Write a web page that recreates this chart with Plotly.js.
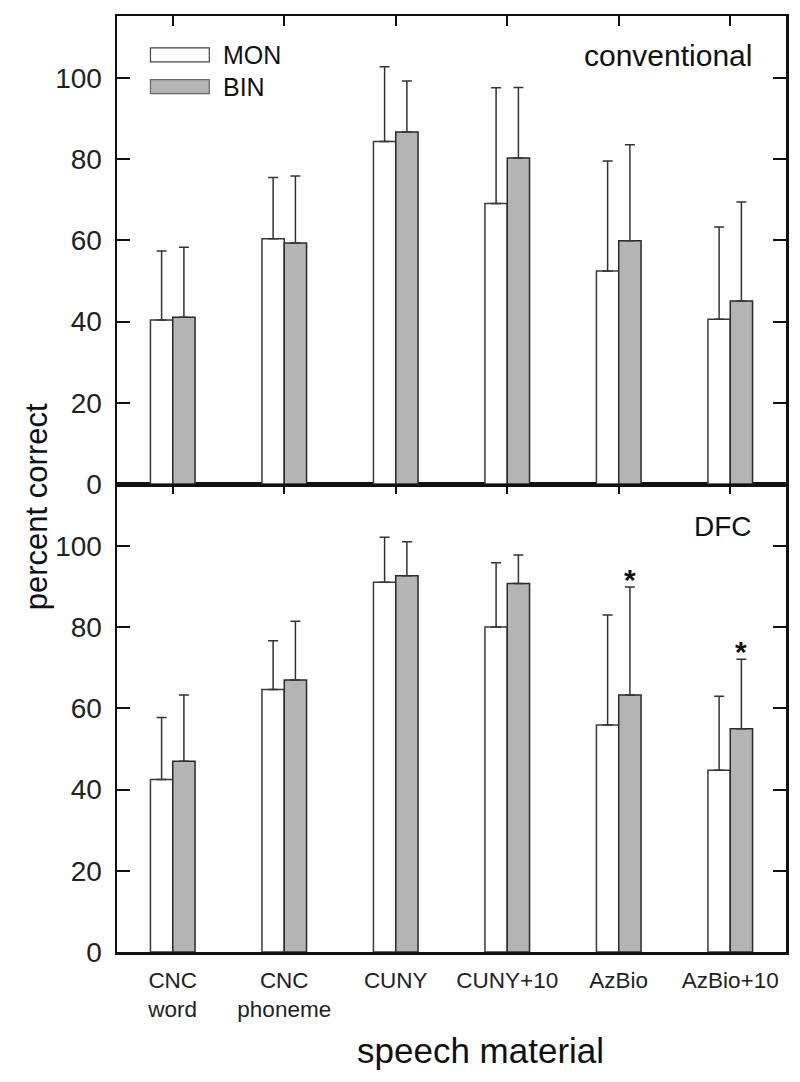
<!DOCTYPE html>
<html>
<head>
<meta charset="utf-8">
<script src="https://cdn.plot.ly/plotly-3.0.1.min.js"></script>
<style>html,body{margin:0;padding:0;background:#fff;}#chart{width:800px;height:1082px;}</style>
</head>
<body>
<div id="chart"></div>
<script>
// ---- data ----
var categories = ["CNC<br>word", "CNC<br>phoneme", "CUNY", "CUNY+10", "AzBio", "AzBio+10"];
var panels = ["conventional", "DFC"];
var seriesNames = ["MON", "BIN"];

// conventional
var convMON = [40.4, 60.4, 84.4, 69.1, 52.5, 40.6];
var convMONsd = [17.0, 15.1, 18.4, 28.5, 27.1, 22.7];
var convBIN = [41.1, 59.4, 86.7, 80.3, 59.9, 45.1];
var convBINsd = [17.2, 16.5, 12.6, 17.4, 23.7, 24.4];

// DFC
var dfcMON = [42.5, 64.7, 91.1, 80.1, 55.9, 44.8];
var dfcMONsd = [15.3, 12.0, 11.1, 15.8, 27.1, 18.2];
var dfcBIN = [47.0, 67.0, 92.7, 90.8, 63.3, 55.0];
var dfcBINsd = [16.3, 14.5, 8.4, 7.0, 26.6, 17.1];
var dfcSignificant = [false, false, false, false, true, true];

var yTicks = [0, 20, 40, 60, 80, 100];

// ---- build ----
var idx = categories.map(function (_, i) { return i; });
var FONT = "Liberation Sans, Arial, sans-serif";
var monStyle = { color: "#ffffff", line: { color: "#3a3a3a", width: 1.5 } };
var binStyle = { color: "#b4b4b4", line: { color: "#2a2a2a", width: 1.5 } };

function bar(name, y, sd, style, xa, ya) {
  return {
    type: "bar", name: name, x: idx, y: y, xaxis: xa, yaxis: ya,
    marker: style, showlegend: false, hoverinfo: "y",
    error_y: { type: "data", symmetric: false, array: sd, arrayminus: sd.map(function () { return 0; }),
      color: "#333333", thickness: 1.5, width: 5 }
  };
}

var data = [
  bar(seriesNames[0], convMON, convMONsd, monStyle, "x2", "y"),
  bar(seriesNames[1], convBIN, convBINsd, binStyle, "x2", "y"),
  bar(seriesNames[0], dfcMON, dfcMONsd, monStyle, "x", "y2"),
  bar(seriesNames[1], dfcBIN, dfcBINsd, binStyle, "x", "y2")
];

var yRange = [0, 115.3];
var xRange = [-0.5, 5.5];
var lineW = 2.5;

function yAxis(domain, anchor) {
  return {
    domain: domain, anchor: anchor, range: yRange, tickvals: yTicks,
    ticks: "inside", ticklen: 13, tickwidth: 2, tickcolor: "#111",
    showline: true, linewidth: lineW, linecolor: "#111", mirror: "ticks",
    showgrid: false, zeroline: false, ticklabelstandoff: 7,
    tickfont: { family: FONT, size: 28, color: "#222" }
  };
}

var annotations = [
  { xref: "paper", yref: "paper", x: 0.952, y: 0.958, xanchor: "right", yanchor: "middle",
    text: panels[0], showarrow: false, font: { family: FONT, size: 30, color: "#111" } },
  { xref: "paper", yref: "paper", x: 0.952, y: 0.455, xanchor: "right", yanchor: "middle",
    text: panels[1], showarrow: false, font: { family: FONT, size: 28, color: "#111" } },
  { xref: "paper", yref: "paper", x: -0.12, y: 0.476, xanchor: "center", yanchor: "middle",
    text: "percent correct", textangle: -90, showarrow: false, font: { family: FONT, size: 31, color: "#111" } },
  { xref: "paper", yref: "paper", x: 0.543, y: -0.105, xanchor: "center", yanchor: "middle",
    text: "speech material", showarrow: false, font: { family: FONT, size: 35, color: "#111" } },
  // legend labels
  { xref: "paper", yref: "paper", x: 0.156, y: 0.958, xanchor: "left", yanchor: "middle",
    text: seriesNames[0], showarrow: false, font: { family: FONT, size: 25, color: "#111" } },
  { xref: "paper", yref: "paper", x: 0.156, y: 0.924, xanchor: "left", yanchor: "middle",
    text: seriesNames[1], showarrow: false, font: { family: FONT, size: 25, color: "#111" } }
];

dfcSignificant.forEach(function (sig, i) {
  if (sig) {
    annotations.push({ xref: "x", yref: "y2", x: i + 0.1, y: dfcBIN[i] + dfcBINsd[i],
      xanchor: "center", yanchor: "bottom", yshift: -11, text: "<b>*</b>", showarrow: false,
      font: { family: FONT, size: 30, color: "#111" } });
  }
});

var shapes = [
  { type: "rect", xref: "paper", yref: "paper", x0: 0.05, x1: 0.138, y0: 0.951, y1: 0.966,
    fillcolor: "#ffffff", line: { color: "#444", width: 1.2 } },
  { type: "rect", xref: "paper", yref: "paper", x0: 0.05, x1: 0.138, y0: 0.917, y1: 0.932,
    fillcolor: "#b4b4b4", line: { color: "#666", width: 1.2 } }
];

var layout = {
  width: 800, height: 1082,
  margin: { l: 117, r: 14, t: 16, b: 130, pad: 0 },
  paper_bgcolor: "#fff", plot_bgcolor: "#fff",
  barmode: "group", bargap: 0.6, bargroupgap: 0,
  showlegend: false,
  font: { family: FONT, color: "#111" },
  xaxis: {
    anchor: "y2", domain: [0, 1], range: xRange, tickvals: idx, ticktext: categories,
    ticks: "", showline: true, linewidth: lineW, linecolor: "#111", mirror: true,
    showgrid: false, zeroline: false, ticklabelstandoff: 6,
    tickfont: { family: FONT, size: 22.5, color: "#222" }
  },
  xaxis2: {
    anchor: "y", domain: [0, 1], range: xRange, tickvals: idx, side: "top",
    ticks: "inside", ticklen: 10, tickwidth: 2, tickcolor: "#111", showticklabels: false,
    showline: true, linewidth: lineW, linecolor: "#111", mirror: true,
    showgrid: false, zeroline: false
  },
  xaxis3: {
    overlaying: "x", anchor: "y2", range: xRange, tickvals: idx, side: "top",
    ticks: "inside", ticklen: 10, tickwidth: 2, tickcolor: "#111", showticklabels: false,
    showline: false, showgrid: false, zeroline: false
  },
  yaxis: yAxis([0.5, 1], "x2"),
  yaxis2: yAxis([0, 0.5], "x"),
  annotations: annotations,
  shapes: shapes
};

// invisible carrier so the overlay axis with top ticks is drawn on the lower panel
data.push({ type: "scatter", x: [], y: [], xaxis: "x3", yaxis: "y2", showlegend: false, hoverinfo: "skip" });

Plotly.newPlot("chart", data, layout, { displayModeBar: false, staticPlot: true });
</script>
</body>
</html>
